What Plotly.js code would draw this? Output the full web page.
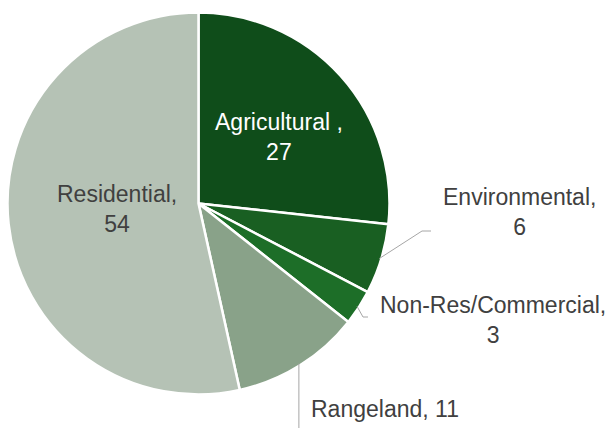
<!DOCTYPE html>
<html>
<head>
<meta charset="utf-8">
<script src="https://cdn.plot.ly/plotly-3.0.1.min.js"></script>
<style>html,body{margin:0;padding:0;background:#fff;}#chart{width:611px;height:428px;}</style>
</head>
<body>
<div id="chart"></div>
<script>
const categories = ["Agricultural ", "Environmental", "Non-Res/Commercial", "Rangeland", "Residential"];
const values = [27, 6, 3, 11, 54];
const colors = ["#0f4d1a", "#195f22", "#1d6e28", "#89a289", "#b5c2b5"];

const W = 611, H = 428;
const cx = 198.5, cy = 203.5, R = 191;
const px = x => x / W, py = y => 1 - y / H;

const total = values.reduce((a, b) => a + b, 0);
function midPoint(i, r) {
  let before = 0;
  for (let k = 0; k < i; k++) before += values[k];
  const ang = (before + values[i] / 2) / total * 2 * Math.PI;
  return [cx + r * Math.sin(ang), cy - r * Math.cos(ang)];
}

const trace = {
  type: "pie",
  labels: categories,
  values: values,
  sort: false,
  direction: "clockwise",
  rotation: 0,
  textinfo: "none",
  hoverinfo: "label+value",
  marker: { colors: colors, line: { color: "#ffffff", width: 2.5 } },
  domain: { x: [px(cx - R), px(cx + R)], y: [py(cy + R), py(cy - R)] },
  showlegend: false
};

const labelPos = [
  { x: 279, y: 137, color: "#ffffff" },
  { x: 519, y: 212, color: "#404040" },
  { x: 493, y: 320, color: "#404040" },
  { x: 385, y: 408.5, color: "#404040" },
  { x: 117, y: 209.5, color: "#404040" }
];
const labelText = [
  categories[0] + ",<br>" + values[0],
  categories[1] + ",<br>" + values[1],
  categories[2] + ",<br>" + values[2],
  categories[3] + ", " + values[3],
  categories[4] + ",<br>" + values[4]
];

const annotations = labelPos.map((p, i) => ({
  x: px(p.x), y: py(p.y), xref: "paper", yref: "paper",
  xanchor: "center", yanchor: "middle", showarrow: false,
  text: labelText[i],
  font: { family: "Liberation Sans, Arial, sans-serif", size: 23, color: p.color }
}));

const e = midPoint(1, R - 2), n = midPoint(2, R - 2), r = midPoint(3, R - 2);
const lineStyle = { color: "#a6a6a6", width: 1 };
const shapes = [
  { type: "path", xref: "paper", yref: "paper", line: lineStyle,
    path: `M ${px(e[0])} ${py(e[1])} L ${px(422)} ${py(231)} L ${px(431)} ${py(231)}` },
  { type: "path", xref: "paper", yref: "paper", line: lineStyle,
    path: `M ${px(n[0])} ${py(n[1])} L ${px(363)} ${py(317)} L ${px(368)} ${py(317)}` },
  { type: "path", xref: "paper", yref: "paper", line: lineStyle,
    path: `M ${px(r[0])} ${py(r[1])} L ${px(r[0])} ${py(430)}` }
];

const layout = {
  width: W, height: H,
  margin: { l: 0, r: 0, t: 0, b: 0 },
  paper_bgcolor: "#ffffff",
  plot_bgcolor: "#ffffff",
  annotations: annotations,
  shapes: shapes
};

Plotly.newPlot("chart", [trace], layout, { displayModeBar: false, staticPlot: true });
</script>
</body>
</html>
